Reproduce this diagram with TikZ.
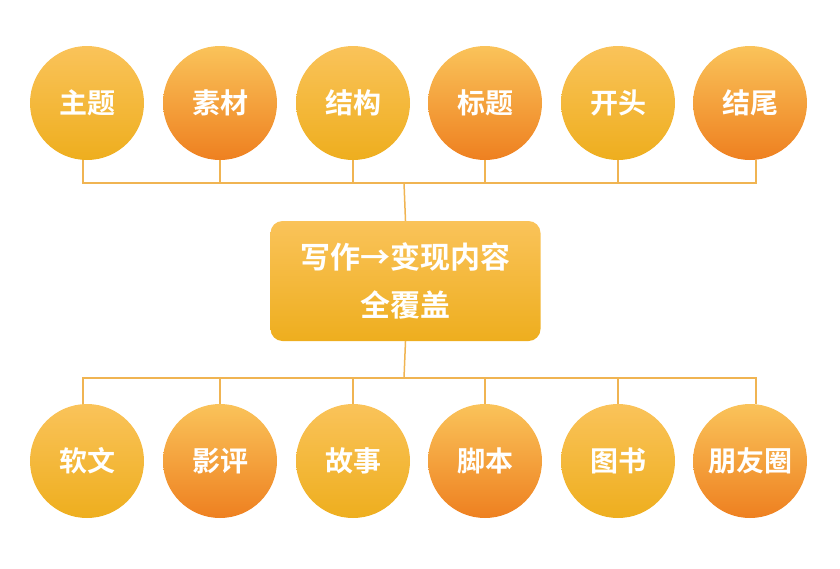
\documentclass[tikz,border=0pt]{standalone}
\usepackage{fontspec}
\newfontfamily\cjk{Noto Sans CJK SC Bold}
\definecolor{ylt}{HTML}{FAC35A}
\definecolor{ybot}{HTML}{EEAE1E}
\definecolor{obot}{HTML}{EE8020}
\definecolor{lnc}{HTML}{F0B452}
\begin{document}
\begin{tikzpicture}[x=1pt,y=-1pt,
  ball/.style={circle,minimum size=114pt,inner sep=0pt,text=white,font=\cjk\fontsize{28}{30}\selectfont,top color=ylt},
  ya/.style={ball,bottom color=ybot},
  ob/.style={ball,bottom color=obot},
  conn/.style={draw=lnc,line width=1.5pt}]
\useasboundingbox (0,0) rectangle (840,568);
\foreach \i/\x/\t/\s in {1/87/主题/ya,2/220/素材/ob,3/353/结构/ya,4/485/标题/ob,5/618/开头/ya,6/750/结尾/ob}
  \node[\s] (t\i) at (\x,103) {\t};
\foreach \i/\x/\t/\s in {1/87/软文/ya,2/220/影评/ob,3/353/故事/ya,4/485/脚本/ob,5/618/图书/ya,6/750/朋友圈/ob}
  \node[\s] (b\i) at (\x,461) {\t};
\node[rounded corners=12pt,minimum width=270pt,minimum height=120pt,top color=ylt,bottom color=ybot,text=white,align=center,font=\cjk\fontsize{30}{48}\selectfont] (c) at (405.5,281) {写作→变现内容\\全覆盖};
\coordinate (th) at (404,183);
\coordinate (bh) at (404,378);
\draw[conn] (c.north) -- (th);
\draw[conn] (c.south) -- (bh);
\draw[conn] (t1.south -| 83,0) -- (83,183) -- (756,183) -- (t6.south -| 756,0);
\draw[conn] (b1.north -| 83,0) -- (83,378) -- (756,378) -- (b6.north -| 756,0);
\foreach \i in {2,3,4,5}{
  \draw[conn] (t\i.south) -- (t\i.south |- th);
  \draw[conn] (b\i.north) -- (b\i.north |- bh);}
\end{tikzpicture}
\end{document}
